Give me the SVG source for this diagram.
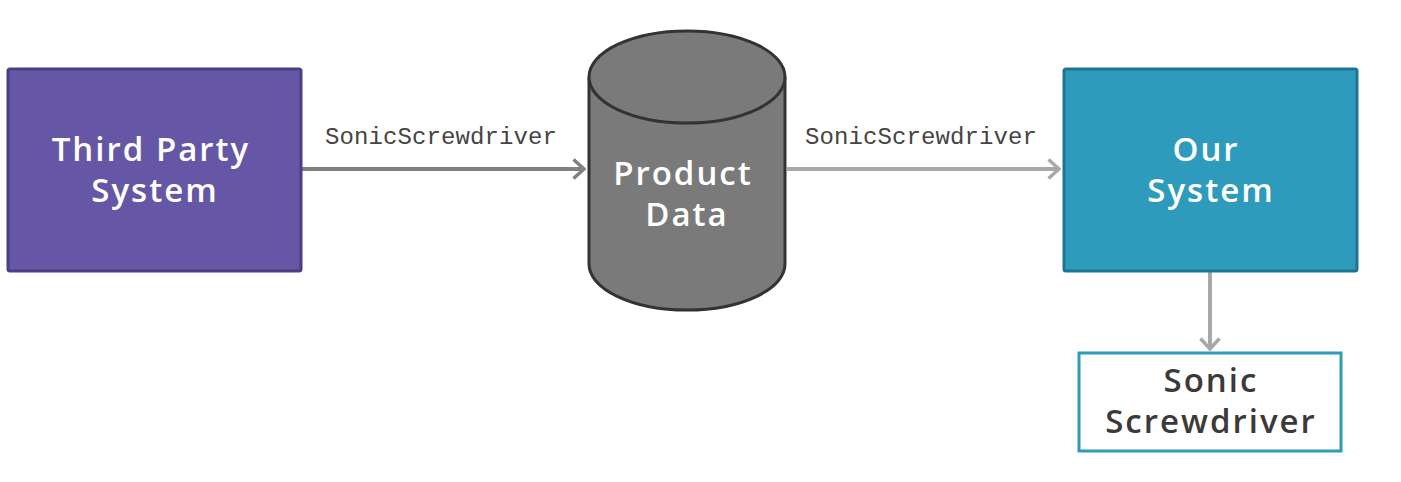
<svg xmlns="http://www.w3.org/2000/svg" width="1401" height="482" viewBox="0 0 1401 482">
<style>
.lbl{font-family:"Open Sans","Liberation Sans",sans-serif;font-weight:600;font-size:33px;letter-spacing:2px;text-anchor:middle}
.w{fill:#ffffff}
.d{fill:#3a3a3a}
.mono{font-family:"Liberation Mono","DejaVu Sans Mono",monospace;font-size:24px;fill:#444}
.conn{fill:none;stroke-width:4}
</style>
<defs>
<marker id="ahD" viewBox="0 0 14 22" refX="12" refY="11" markerWidth="14" markerHeight="22" markerUnits="userSpaceOnUse" orient="auto">
<path d="M1.5,1.5 L12,11 L1.5,20.5" fill="none" stroke="#808080" stroke-width="3.5"/>
</marker>
<marker id="ahL" viewBox="0 0 14 22" refX="12" refY="11" markerWidth="14" markerHeight="22" markerUnits="userSpaceOnUse" orient="auto">
<path d="M1.5,1.5 L12,11 L1.5,20.5" fill="none" stroke="#a8a8a8" stroke-width="3.5"/>
</marker>
</defs>
<rect width="1401" height="482" fill="#ffffff"/>
<g id="connectors">
<line class="conn" x1="302" y1="169" x2="584" y2="169" stroke="#808080" marker-end="url(#ahD)"/>
<text class="mono" x="325" y="144" textLength="232">SonicScrewdriver</text>
<line class="conn" x1="787" y1="169" x2="1059" y2="169" stroke="#a8a8a8" marker-end="url(#ahL)"/>
<text class="mono" x="805" y="144" textLength="232">SonicScrewdriver</text>
<line class="conn" x1="1210" y1="272" x2="1210" y2="349" stroke="#a8a8a8" marker-end="url(#ahL)"/>
</g>
<g id="third-party">
<rect x="8" y="69" width="293" height="202" rx="2" fill="#6657a6" stroke="#4b3e83" stroke-width="3"/>
<text class="lbl w" x="151" y="161">Third Party</text>
<text class="lbl w" x="155" y="202">System</text>
</g>
<g id="product-data">
<path d="M589,77 L589,264 A98,46 0 0 0 785,264 L785,77" fill="#7a7a7a" stroke="#333" stroke-width="3"/>
<ellipse cx="687" cy="77" rx="98" ry="46" fill="#7a7a7a" stroke="#333" stroke-width="3"/>
<text class="lbl w" x="683" y="185">Product</text>
<text class="lbl w" x="687" y="226">Data</text>
</g>
<g id="our-system">
<rect x="1064" y="69" width="293" height="202" rx="2" fill="#2e9bbd" stroke="#1f7591" stroke-width="3"/>
<text class="lbl w" x="1206" y="161">Our</text>
<text class="lbl w" x="1211" y="202">System</text>
</g>
<g id="sonic-screwdriver">
<rect x="1079" y="353" width="262" height="98" fill="#ffffff" stroke="#2e9bbd" stroke-width="3"/>
<text class="lbl d" x="1211" y="392">Sonic</text>
<text class="lbl d" x="1211" y="433">Screwdriver</text>
</g>
</svg>
